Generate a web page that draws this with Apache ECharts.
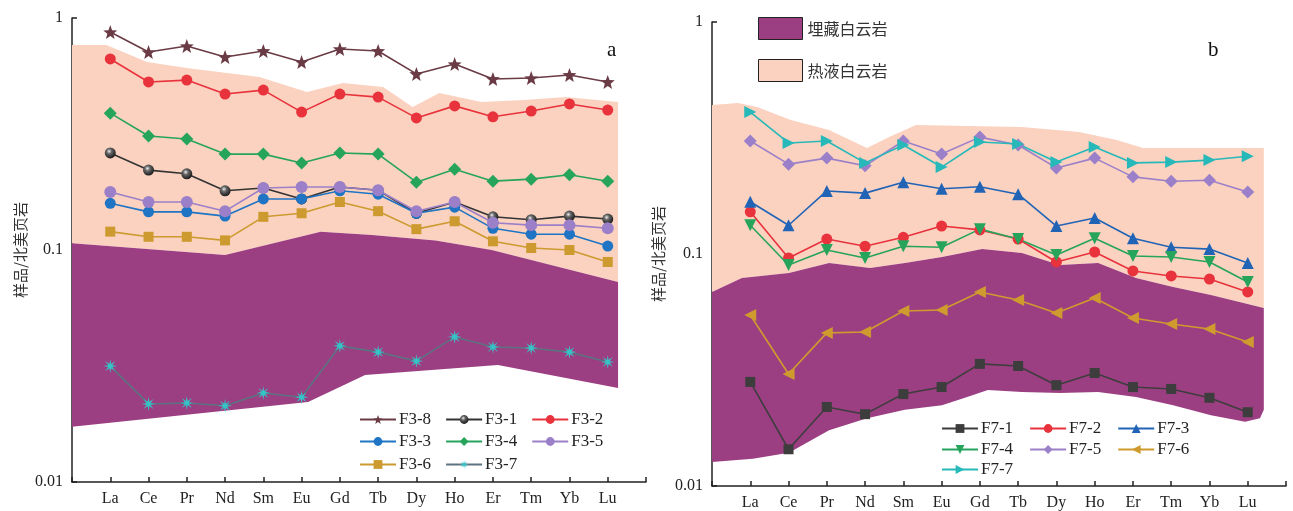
<!DOCTYPE html>
<html><head><meta charset="utf-8">
<script src="https://cdn.jsdelivr.net/npm/echarts@6/dist/echarts.min.js"></script>
<style>html,body{margin:0;padding:0;background:#fff}#c{width:1293px;height:511px}</style>
</head><body><div id="c"></div>
<script>
const cats = ['La','Ce','Pr','Nd','Sm','Eu','Gd','Tb','Dy','Ho','Er','Tm','Yb','Lu'];
const yTicks = [0.01, 0.1, 1];

// Panel a
const F3_8 = [0.870,0.713,0.757,0.679,0.721,0.646,0.735,0.721,0.574,0.633,0.546,0.551,0.568,0.530];
const F3_1 = [0.262,0.221,0.213,0.180,0.185,0.166,0.187,0.181,0.144,0.161,0.139,0.135,0.140,0.136];
const F3_2 = [0.666,0.530,0.540,0.470,0.489,0.393,0.470,0.456,0.371,0.418,0.375,0.397,0.426,0.401];
const F3_3 = [0.159,0.146,0.146,0.140,0.166,0.166,0.180,0.174,0.144,0.153,0.124,0.117,0.117,0.104];
const F3_4 = [0.389,0.310,0.301,0.259,0.259,0.237,0.262,0.259,0.196,0.223,0.198,0.202,0.211,0.198];
const F3_5 = [0.178,0.161,0.161,0.147,0.185,0.187,0.187,0.181,0.147,0.161,0.131,0.128,0.128,0.124];
const F3_6 = [0.120,0.114,0.114,0.110,0.139,0.144,0.161,0.147,0.123,0.133,0.109,0.102,0.100,0.0888];
const F3_7 = [0.0316,0.0217,0.0219,0.0213,0.0242,0.0232,0.0386,0.0363,0.0332,0.0422,0.0382,0.0378,0.0363,0.0329];

// Panel b
const F7_1 = [0.0281,0.0144,0.0219,0.0204,0.0249,0.0267,0.0336,0.0329,0.0272,0.0307,0.0267,0.0262,0.0240,0.0208];
const F7_2 = [0.152,0.0961,0.116,0.108,0.118,0.132,0.127,0.116,0.0924,0.102,0.0845,0.0804,0.0780,0.0686];
const F7_3 = [0.168,0.133,0.187,0.183,0.204,0.191,0.195,0.181,0.132,0.143,0.117,0.107,0.105,0.0915];
const F7_4 = [0.133,0.0897,0.104,0.0961,0.108,0.107,0.128,0.116,0.0990,0.117,0.0980,0.0970,0.0924,0.0757];
const F7_5 = [0.307,0.244,0.259,0.240,0.307,0.270,0.319,0.295,0.235,0.259,0.215,0.206,0.208,0.185];
const F7_6 = [0.0546,0.0304,0.0457,0.0461,0.0568,0.0574,0.0686,0.0633,0.0557,0.0646,0.0530,0.0499,0.0475,0.0418];
const F7_7 = [0.409,0.301,0.307,0.247,0.295,0.237,0.304,0.298,0.249,0.289,0.247,0.249,0.254,0.264];

// Envelope bands: [position along element axis, value]
const aHydroTop = [[0,0.765],[0.9,0.765],[1.96,0.646],[3,0.609],[4.05,0.58],[4.9,0.557],[6.14,0.48],[7.08,0.525],[8.13,0.504],[8.9,0.413],[9.6,0.475],[10.7,0.434],[11.8,0.443],[12.9,0.456],[14.27,0.434]];
const aBurialTop = [[0,0.107],[4,0.0951],[6.5,0.120],[7.84,0.116],[9.5,0.110],[10.97,0.100],[14.27,0.0728]];
const aBurialBottom = [[0,0.0173],[6.17,0.0221],[7.66,0.0289],[11.13,0.0319],[14.27,0.0254]];
const bHydroTop = [[0,0.439],[0.68,0.448],[1.18,0.430],[2.06,0.378],[3.06,0.342],[4.05,0.286],[4.63,0.319],[5.33,0.360],[8.1,0.353],[9.59,0.336],[10.58,0.310],[11.26,0.286],[14.42,0.286]];
const bBurialTop = [[0,0.0686],[0.78,0.0788],[2.01,0.0828],[3.06,0.0915],[4.13,0.0871],[5.04,0.0915],[6.01,0.0971],[7.06,0.105],[8.1,0.101],[9.09,0.0897],[10.09,0.0915],[11.08,0.0788],[12.05,0.0721],[13.04,0.0666],[14.42,0.0585]];
const bBurialBottom = [[0,0.0127],[1.07,0.0131],[2.01,0.0139],[3.06,0.0174],[4.05,0.0196],[5.04,0.0213],[6.01,0.0223],[6.61,0.0240],[7.21,0.0259],[8.1,0.0254],[9.09,0.0252],[10.09,0.0254],[11.08,0.0242],[12.05,0.0223],[13.04,0.0202],[13.93,0.0189],[14.32,0.0196],[14.42,0.0213]];

const PURPLE = '#9c3f82', PINK = '#fbd2c0';
const SERIF = 'Liberation Serif';
const CJK = 'Noto Sans CJK SC';

function burst(n, rIn) {
  let d = '';
  for (let i = 0; i < n * 2; i++) {
    const a = Math.PI * i / n;
    const r = i % 2 === 0 ? 50 : rIn;
    d += (i === 0 ? 'M' : 'L') + (50 + r * Math.sin(a)).toFixed(2) + ',' + (50 - r * Math.cos(a)).toFixed(2) + ' ';
  }
  return 'path://' + d + 'Z';
}
const STAR = burst(5, 21);
const ASTER = burst(8, 16);

function pts(arr) { return arr.map((v, i) => [i + 1, v]); }

function line(name, arr, ax, color, symbol, size, extra) {
  return Object.assign({
    name, type: 'line', xAxisIndex: ax, yAxisIndex: ax, data: pts(arr),
    symbol, symbolSize: size, z: 5,
    lineStyle: { color, width: 1.6 },
    itemStyle: { color }
  }, extra || {});
}

function band(name, top, bottom, ax, color) {
  return {
    name, type: 'custom', xAxisIndex: ax, yAxisIndex: ax, z: 1,
    itemStyle: { color },
    data: [[1, 0.1]],
    renderItem: (params, api) => {
      const p = top.map(q => api.coord(q)).concat(bottom.slice().reverse().map(q => api.coord(q)));
      return { type: 'polygon', shape: { points: p }, style: { fill: color } };
    }
  };
}

function xAxis(gi) {
  return {
    type: 'value', gridIndex: gi, min: 0, max: 15, interval: 1,
    axisLine: { lineStyle: { color: '#222', width: 1.5 } },
    axisTick: { inside: true, length: 5, lineStyle: { color: '#222', width: 1.5 } },
    splitLine: { show: false },
    axisLabel: { color: '#222', fontFamily: SERIF, fontSize: 16, margin: 9,
      formatter: v => cats[v - 1] || '' }
  };
}
function yAxis(gi, gap) {
  return {
    type: 'log', logBase: 10, gridIndex: gi, min: yTicks[0], max: yTicks[2],
    axisLine: { show: true, lineStyle: { color: '#222', width: 1.5 } },
    axisTick: { inside: true, length: 5, lineStyle: { color: '#222', width: 1.5 } },
    minorTick: { show: false }, splitLine: { show: false },
    axisLabel: { color: '#222', fontFamily: SERIF, fontSize: 16, margin: 9,
      formatter: v => String(yTicks.find(t => Math.abs(t - v) / t < 1e-6) ?? v) },
    name: '样品/北美页岩', nameLocation: 'middle', nameRotate: 90, nameGap: gap,
    nameTextStyle: { color: '#333', fontFamily: CJK, fontSize: 15 }
  };
}

const sphere = { type: 'radial', x: 0.4, y: 0.35, r: 0.65,
  colorStops: [{ offset: 0, color: '#eeeeee' }, { offset: 0.35, color: '#666' }, { offset: 1, color: '#1a1a1a' }] };

const series = [
  band('热液白云岩', aHydroTop, aBurialTop, 0, PINK),
  band('埋藏白云岩', aBurialTop, aBurialBottom, 0, PURPLE),
  band('热液白云岩', bHydroTop, bBurialTop, 1, PINK),
  band('埋藏白云岩', bBurialTop, bBurialBottom, 1, PURPLE),
  line('F3-8', F3_8, 0, '#6a3b45', STAR, 14),
  line('F3-1', F3_1, 0, '#333333', 'circle', 11, { itemStyle: { color: sphere }, lineStyle: { color: '#333', width: 1.6 } }),
  line('F3-2', F3_2, 0, '#e8323c', 'circle', 11),
  line('F3-3', F3_3, 0, '#1f74c4', 'circle', 11),
  line('F3-4', F3_4, 0, '#27a45c', 'diamond', 13),
  line('F3-5', F3_5, 0, '#9b80c9', 'circle', 12),
  line('F3-6', F3_6, 0, '#cc9a2e', 'rect', 10),
  line('F3-7', F3_7, 0, '#5c7280', ASTER, 14, { itemStyle: { color: '#36c3c6' } }),
  line('F7-1', F7_1, 1, '#3d3d3d', 'rect', 10),
  line('F7-2', F7_2, 1, '#e8323c', 'circle', 11),
  line('F7-3', F7_3, 1, '#2164b6', 'triangle', 12),
  line('F7-4', F7_4, 1, '#27a45c', 'triangle', 12, { symbolRotate: 180 }),
  line('F7-5', F7_5, 1, '#9b80c9', 'diamond', 13),
  line('F7-6', F7_6, 1, '#cf9a2e', 'triangle', 12, { symbolRotate: 90 }),
  line('F7-7', F7_7, 1, '#27b9b9', 'triangle', 12, { symbolRotate: -90 })
];

function lg(data, left, top, gap) {
  return { data, left, top, orient: 'horizontal', itemWidth: 36, itemHeight: 11, itemGap: gap,
    selectedMode: false, symbolRotate: 'inherit',
    textStyle: { fontFamily: SERIF, fontSize: 17, color: '#222', padding: [0, 0, 0, -2] } };
}

const option = {
  animation: false,
  grid: [
    { left: 72, top: 18, width: 574, height: 464 },
    { left: 712, top: 22, width: 574, height: 464 }
  ],
  xAxis: [xAxis(0), xAxis(1)],
  yAxis: [yAxis(0, 44), yAxis(1, 46)],
  legend: [
    lg(['F3-8', 'F3-1', 'F3-2'], 354, 406, 14),
    lg(['F3-3', 'F3-4', 'F3-5'], 354, 428, 14),
    lg(['F3-6', 'F3-7'], 354, 451, 14),
    lg(['F7-1', 'F7-2', 'F7-3'], 936, 415, 16),
    lg(['F7-4', 'F7-5', 'F7-6'], 936, 436, 16),
    lg(['F7-7'], 936, 456, 16),
    { data: [
        { name: '埋藏白云岩', icon: 'rect', itemStyle: { color: PURPLE, borderColor: '#222', borderWidth: 1 } },
        { name: '热液白云岩', icon: 'rect', itemStyle: { color: PINK, borderColor: '#222', borderWidth: 1 } }
      ],
      left: 753, top: 12, orient: 'vertical', itemWidth: 44, itemHeight: 22, itemGap: 19,
      selectedMode: false,
      textStyle: { fontFamily: CJK, fontSize: 16, color: '#333' } }
  ],
  graphic: [
    { type: 'text', left: 607, top: 40, style: { text: 'a', fontFamily: SERIF, fontSize: 21, fill: '#111' } },
    { type: 'text', left: 1208, top: 40, style: { text: 'b', fontFamily: SERIF, fontSize: 21, fill: '#111' } }
  ],
  series
};
echarts.init(document.getElementById('c')).setOption(option);
</script></body></html>
